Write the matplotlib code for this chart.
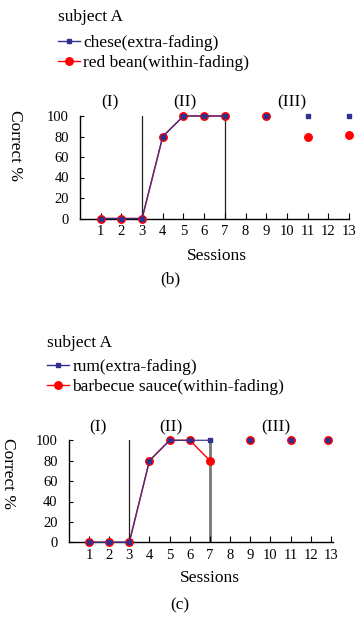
import matplotlib
matplotlib.use("Agg")
import matplotlib.pyplot as plt
from matplotlib.lines import Line2D

plt.rcParams['font.family'] = ['Liberation Serif', 'DejaVu Serif']

# ---- data ----
sessions = [1, 2, 3, 4, 5, 6, 7, 9, 11, 13]
tick_labels = [str(i) for i in range(1, 14)]

b_chese = [0, 0, 0, 80, 100, 100, 100, 100, 100, 100]
b_redbean = [0, 0, 0, 80, 100, 100, 100, 100, 80, 81]

c_sessions_rum = [1, 2, 3, 4, 5, 6, 7, 9, 11, 12.85]
c_rum = [0, 0, 0, 80, 100, 100, 100, 100, 100, 100]
c_sessions_bbq = [1, 2, 3, 4, 5, 6, 7, 9, 11, 12.85]
c_bbq = [0, 0, 0, 80, 100, 100, 80, 100, 100, 100]

phase_labels = ['(I)', '(II)', '(III)']
phase_x = [1.45, 5.07, 10.25]

BLUE = '#2e3192'
RED = '#ff0000'
W, H = 357, 617
fig = plt.figure(figsize=(W / 100, H / 100), dpi=100)


def make_axes(left, right, y0, y100):
    return fig.add_axes([left / W, (H - y0) / H, (right - left) / W, (y0 - y100) / H])


def draw(ax, xs_blue, blue, xs_red, red, xmax, line7_style):
    ax.set_xlim(0, xmax)
    ax.set_ylim(0, 100)
    for s in ['top', 'right']:
        ax.spines[s].set_visible(False)
    for s in ['left', 'bottom']:
        ax.spines[s].set_linewidth(1.0)
    ax.set_xticks(range(1, 14))
    ax.set_xticklabels(tick_labels)
    ax.set_yticks([0, 20, 40, 60, 80, 100])
    ax.tick_params(axis='x', direction='in', length=4, width=0.8, labelsize=10.5, pad=5)
    ax.tick_params(axis='y', direction='in', length=3, width=0.8, labelsize=10.5, pad=8)
    # phase lines
    ax.plot([3, 3], [0, 100], color='#222222', lw=0.9, zorder=1)
    ax.plot([7, 7], [0, 100], **line7_style, zorder=1)
    # red series
    ax.plot(xs_red[:7], red[:7], color=RED, lw=1.0, zorder=2, clip_on=False)
    ax.plot(xs_red, red, ls='none', marker='o', ms=5.4, color=RED, zorder=3, clip_on=False)
    # blue series
    ax.plot(xs_blue[:7], blue[:7], color=BLUE, lw=1.0, alpha=0.85, zorder=4, clip_on=False)
    ax.plot(xs_blue, blue, ls='none', marker='s', ms=3.4, color=BLUE, zorder=5, clip_on=False)
    for lab, x in zip(phase_labels, phase_x):
        ax.text(x, 113, lab, ha='center', va='center', fontsize=12.5)


# ---- (b) ----
ax1 = make_axes(80, 349, 218.5, 116)
draw(ax1, sessions, b_chese, sessions, b_redbean, 13,
     dict(color='#222222', lw=0.9))
# ---- (c) ----
ax2 = make_axes(68.8, 333, 542.3, 440.3)
draw(ax2, c_sessions_rum, c_rum, c_sessions_bbq, c_bbq, 13.1,
     dict(color='#777777', lw=2.0))


def legend(title, lab_blue, lab_red, x, y_title, y_top):
    fig.text(x / W, (H - y_title) / H, title, ha='left', va='center', fontsize=12.5)
    h1 = Line2D([], [], color=BLUE, marker='s', ms=3.4, lw=1.0)
    h2 = Line2D([], [], color=RED, marker='o', ms=5.4, lw=1.0)
    leg = fig.legend([h1, h2], [lab_blue, lab_red], loc='upper left',
                     bbox_to_anchor=(x / W, (H - y_top) / H), frameon=False,
                     fontsize=12.5,
                     handlelength=1.25, handletextpad=0.2, labelspacing=0.22,
                     borderpad=0, borderaxespad=0)
    return leg


legend('subject A', 'chese(extra-fading)', 'red bean(within-fading)', 58, 17, 35)
legend('subject A', 'rum(extra-fading)', 'barbecue sauce(within-fading)', 47, 343, 359)

fig.text(15 / W, (H - 146) / H, 'Correct %', rotation=-90, ha='center', va='center', fontsize=12.5)
fig.text(8 / W, (H - 473) / H, 'Correct %', rotation=-90, ha='center', va='center', fontsize=12.5)
fig.text(217 / W, (H - 256) / H, 'Sessions', ha='center', va='center', fontsize=12.5)
fig.text(210 / W, (H - 578) / H, 'Sessions', ha='center', va='center', fontsize=12.5)
fig.text(170 / W, (H - 279) / H, '(b)', ha='center', va='center', fontsize=12.5)
fig.text(180 / W, (H - 605) / H, '(c)', ha='center', va='center', fontsize=12.5)

fig.savefig('out.png', dpi=100)
